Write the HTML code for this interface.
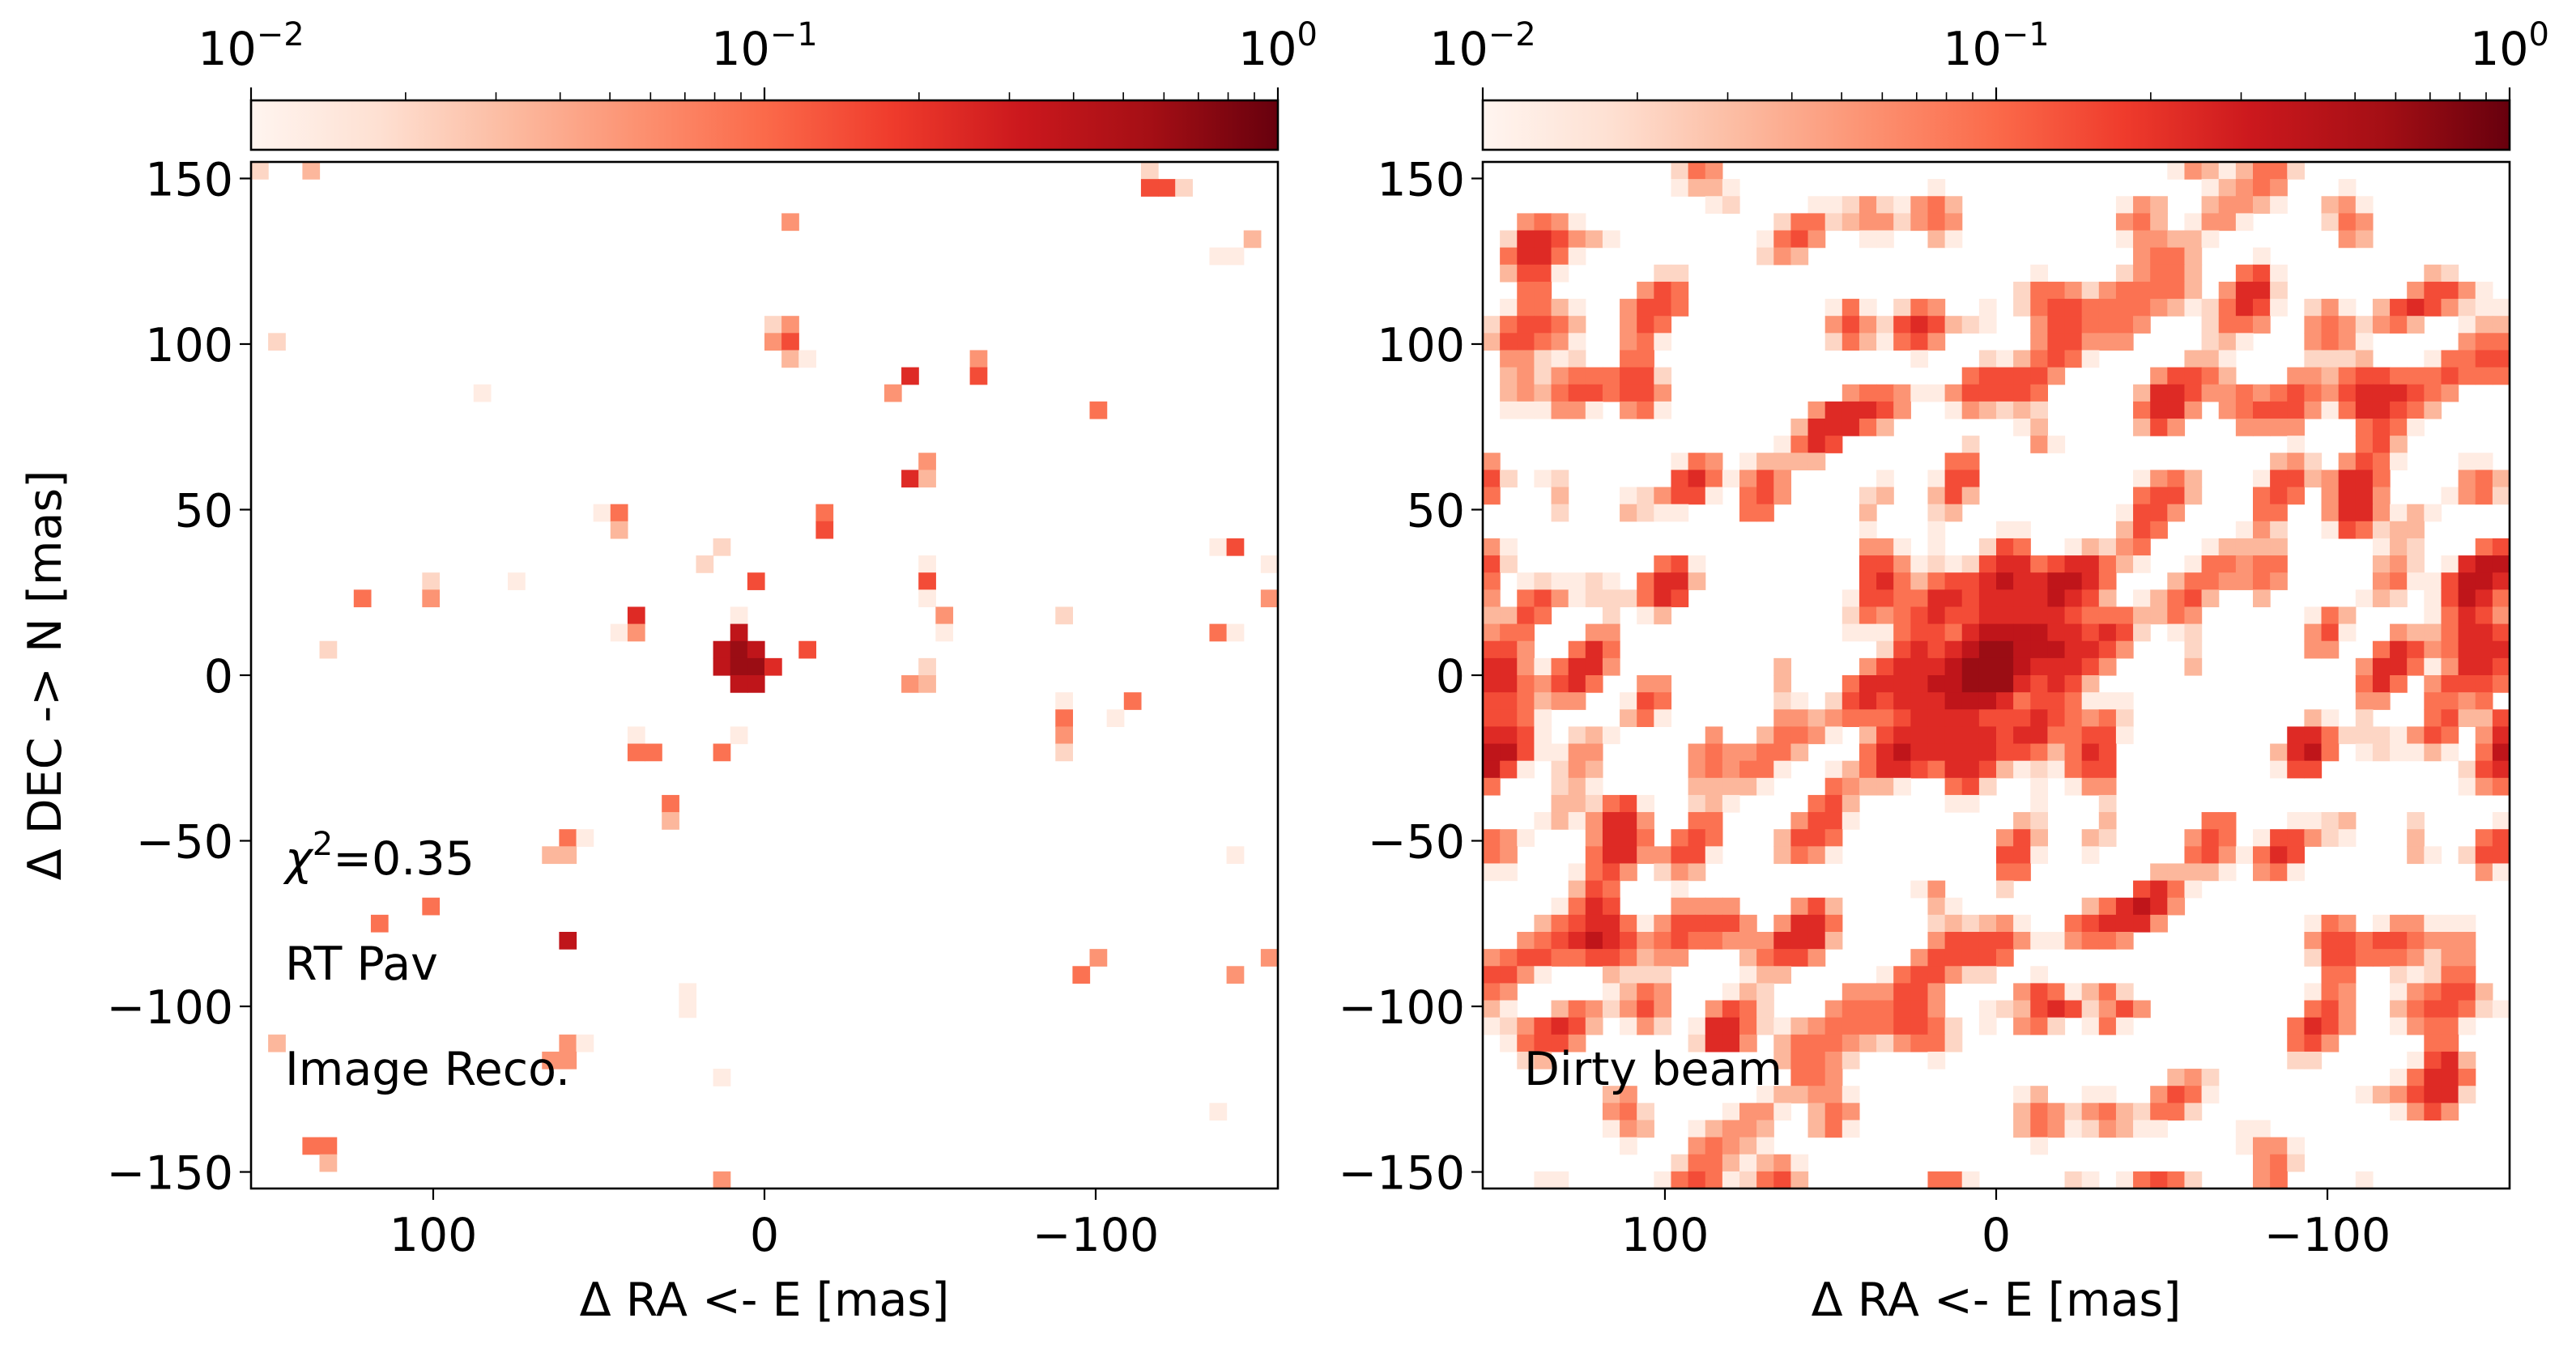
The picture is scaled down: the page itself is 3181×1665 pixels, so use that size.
<!DOCTYPE html>
<html><head><meta charset="utf-8"><style>
html,body{margin:0;padding:0;background:#fff;}
svg{display:block;font-family:"DejaVu Sans","Liberation Sans",sans-serif;}
</style></head><body>
<svg id="fig" width="3181" height="1665" viewBox="0 0 3181 1665" xmlns="http://www.w3.org/2000/svg">
<defs>
<linearGradient id="reds" x1="0" x2="1" y1="0" y2="0">
<stop offset="0" stop-color="#fff5f0"/><stop offset="0.125" stop-color="#fee0d2"/><stop offset="0.25" stop-color="#fcbba1"/><stop offset="0.375" stop-color="#fc9272"/><stop offset="0.5" stop-color="#fb6a4a"/><stop offset="0.625" stop-color="#ef3b2c"/><stop offset="0.75" stop-color="#cb181d"/><stop offset="0.875" stop-color="#a50f15"/><stop offset="1" stop-color="#67000d"/>
</linearGradient>
</defs>
<g id="left"></g>
<g id="right"></g>
</svg>
<script>
const extentMas = 155;
const gridSize = 60;
const yTicks = [150, 100, 50, 0, -50, -100, -150];
const xTicks = [100, 0, -100];
const cbarDecades = [-2, -1, 0];
const recoCells = [
[0,0,2],[0,3,3],[0,52,2],[1,52,6],[1,53,6],[1,54,2],[3,31,4],[4,58,3],[5,56,1],[5,57,1],
[9,30,2],[9,31,4],[10,1,2],[10,30,4],[10,31,6],[11,31,3],[11,32,1],[11,42,4],[12,38,7],[12,42,6],
[13,13,1],[13,37,4],[14,49,5],[17,39,4],[18,38,7],[18,39,3],[20,20,1],[20,21,5],[20,33,5],[21,21,3],
[21,33,6],[22,27,2],[22,56,1],[22,57,6],[23,26,2],[23,39,1],[23,59,1],[24,10,2],[24,15,1],[24,29,6],
[24,39,6],[25,6,5],[25,10,4],[25,39,1],[25,59,4],[26,22,7],[26,28,1],[26,40,4],[26,47,2],[27,21,1],
[27,22,4],[27,28,8],[27,40,1],[27,56,5],[27,57,1],[28,4,2],[28,27,8],[28,28,9],[28,29,8],[28,32,6],
[29,27,8],[29,28,9],[29,29,9],[29,30,7],[29,39,2],[30,28,8],[30,29,8],[30,38,4],[30,39,3],
[31,47,1],[31,51,5],[32,47,5],[32,50,1],[33,22,1],[33,28,1],[33,47,4],[34,22,5],[34,23,5],[34,27,5],[34,47,2],
[37,24,5],[38,24,3],[39,18,5],[39,19,1],[40,17,3],[40,18,3],[40,57,1],[43,10,5],[44,7,5],[45,18,8],
[46,49,4],[46,59,4],[47,48,5],[47,57,4],[48,25,1],[49,25,1],[51,1,3],[51,18,4],[51,19,1],[52,17,4],[52,18,4],
[53,27,1],[55,56,1],[57,3,5],[57,4,5],[58,4,3],[59,27,4]
];
const beamRows = [
"0000000000 0254000000 0000000000 0000000000 1431355200 0000000000",
"0000000000 0133100000 0000001000 0000000000 0013454000 1000000000",
"0000000000 0001200001 1242145300 0000000143 0034431003 4100000000",
"0045410000 0000000255 2344245400 0000000453 0144100002 5400000000",
"0277643100 0000001564 0011003100 0000000144 3310000000 4300000000",
"0577510000 0000002430 0000000000 0000000045 5300010000 0000000000",
"0366100000 2200000000 0000000000 0010000245 5300561000 0000032000",
"0055000004 6500000000 0000000000 0255424555 5304772000 0000466410",
"0155310046 6500000000 1510254001 0256655554 3125761024 1036764211",
"2566530046 5000000000 4642676321 0046655540 0025540045 4245300133",
"3665410045 1000000000 2531564000 0046644400 0023100045 4100000455",
"0442120055 0000000000 0000010002 1356510000 0331000022 2300015566",
"0342455566 2000000000 0000000056 6664000004 6653000443 5665556555",
"0343566566 4000000000 0455411466 6650000037 7644545654 6777654000",
"0111441045 1000000004 7776400143 2320000057 7404566641 5776530000",
"0000000000 0000000037 7753000000 0130000036 4000444400 0565100000",
"0000000000 0000000157 6000000020 0041000000 0000000100 0563000000",
"4000000000 0154013333 0000000550 0000000000 0000003420 4651000110",
"6201200000 0675146400 0001001660 0000000014 5300016634 7750000453",
"5000300012 4661056400 0023003630 0000000056 6300056504 7740001452",
"0000200032 1100055000 0030002300 0000000166 4000055004 7741310000",
"0000000000 0000000000 0010001000 1100000365 0000142001 6523300000",
"4100000000 0000000000 0044101002 6500132450 0013333000 0013200056",
"6200000000 5610000000 0066412126 7756775310 0155455000 0034201788",
"5012112105 7730000000 0067535667 8778875000 3554454000 0045116887",
"4056412225 7600000000 0166557767 7778763013 5630030000 0132016875",
"3365000201 3000000000 0254567667 7777655533 5400000015 3000015764",
"4550004400 0000000000 0111566578 8887767620 1200000046 1004335776",
"6640057500 0000000000 0002676789 9888776400 0200000044 0057645777",
"7741577400 0000000300 0046777899 9877764000 0300000000 0477514776",
"7754675004 4000000300 0577778899 9767630000 0000000000 0575046665",
"6653440016 5000000210 2676777888 7566511100 0000000000 0440055450",
"6651000035 1000000443 4555677776 6676545200 0000000031 0200056336",
"7761023100 0004003554 1036777777 6775566100 0000000775 2221465047",
"8861144000 0045445530 0057877777 6653576000 0000003785 0121131058",
"8610243000 0045455100 1357765776 3121566000 0000001660 0000000267",
"5000231000 0033331000 5433100562 0010144000 0000000000 0000000145",
"0000332561 0023100005 6300000110 0010002000 0000000000 0000000000",
"0001314774 0055000046 6100000000 0320003000 0055000112 3000200001",
"5410004775 0565000366 5000000000 4630032000 0465016642 1000300056",
"5400005774 4661000354 1000000000 6610010000 0564157600 0000310266",
"1100015640 2430000000 0000000000 5500000003 3331045100 0000000041",
"0000036500 0100000000 0000014000 2000000067 5100000000 0000000000",
"0000157600 0444400046 3000003100 0000035787 4000000000 0000000000",
"0003567751 4666640477 5000002323 4100567774 0000000015 4014411100",
"0045678764 5655444777 3000004666 6411455400 0000000046 6566544400",
"4566556653 4400035664 0000046666 5000000000 0000000026 6555424400",
"6641000322 2000013300 0001566422 0010000000 0000000005 5002125500",
"5400000135 4000132000 0444664000 0465135200 0000000015 4001456630",
"3100354246 4004652000 4555664001 2367624640 0000000056 4003566521",
"1246763014 2017752134 5555665201 0452015100 0000000576 4001455100",
"0156640000 0027740355 5432455200 0000000000 0000000564 0000055000",
"0023000000 0000000355 4200001000 0000000000 0000000220 0000167300",
"0000000000 0000000055 4000000000 0000000000 3420000000 0001577500",
"0000000340 0000001334 4100000000 0130011004 6510000000 0134677200",
"0000000452 0000144103 5400000000 0354245325 5200000000 0001464000",
"0000000143 0013443003 5100000000 0354124311 0000110000 0000000000",
"0000000010 0045431000 0000000000 0010000000 0000144100 0000000000",
"0000000000 0255313410 0000000000 0000000000 0000045200 0000000000",
"0001100000 1565125630 0000005510 0000210156 5200045000 0100000000"
];
</script>
<script>
const NS = "http://www.w3.org/2000/svg";
const size = 1268;
const S = size / (2 * extentMas);
const panelX = [310, 1831];
const top0 = 200;
const cell = 2 * extentMas / gridSize;
function xOf(p, ra) { return panelX[p] + (extentMas - ra) * S; }
function yOf(dec) { return top0 + (extentMas - dec) * S; }
function cbX(p, logv) { return panelX[p] + (logv + 2) / 2 * size; }
const stops = [[0,[255,245,240]],[0.125,[254,224,210]],[0.25,[252,187,161]],[0.375,[252,146,114]],[0.5,[251,106,74]],[0.625,[239,59,44]],[0.75,[203,24,29]],[0.875,[165,15,21]],[1,[103,0,13]]];
function reds(t) {
  t = Math.max(0, Math.min(1, t));
  for (let i = 1; i < stops.length; i++) {
    if (t <= stops[i][0]) {
      const a = stops[i-1], b = stops[i], f = (t - a[0]) / (b[0] - a[0]);
      const c = a[1].map((v, j) => Math.round(v + (b[1][j] - v) * f));
      return "rgb(" + c.join(",") + ")";
    }
  }
  return "rgb(103,0,13)";
}
function levelValue(k) { return Math.pow(10, -2 + 2 * (k - 0.5) / 9.5); }
function colorOf(v) { return reds((Math.log10(v) + 2) / 2); }
function mk(tag, attrs, parent) {
  const e = document.createElementNS(NS, tag);
  for (const k in attrs) e.setAttribute(k, attrs[k]);
  parent.appendChild(e);
  return e;
}
function drawCell(p, r, c, k, g) {
  const ra = extentMas - (c + 0.5) * cell, dec = extentMas - (r + 0.5) * cell;
  const x = xOf(p, ra + cell / 2), y = yOf(dec + cell / 2);
  const w = xOf(p, ra - cell / 2) - x, h = yOf(dec - cell / 2) - y;
  const el = mk("rect", {x: x.toFixed(2), y: y.toFixed(2), width: (w + 0.6).toFixed(2), height: (h + 0.6).toFixed(2), fill: colorOf(levelValue(k))}, g);
  
  
}
function drawPanel(p, g) {
  const cells = mk("g", {}, g);
  
  
  if (p === 0) {
    recoCells.forEach(d => drawCell(0, d[0], d[1], d[2], cells));
  } else {
    beamRows.forEach((row, r) => {
      const s = row.replace(/\s/g, "");
      for (let c = 0; c < gridSize && c < s.length; c++) {
        const k = +s[c];
        if (k > 0) drawCell(1, r, c, k, cells);
      }
    });
  }
  const frame = mk("rect", {x: panelX[p], y: top0, width: size, height: size, fill: "none", stroke: "#000", "stroke-width": 2.6}, g);
  
  
  yTicks.forEach(v => {
    const y = yOf(v);
    const t = mk("line", {x1: panelX[p] - 14, x2: panelX[p], y1: y, y2: y, stroke: "#000", "stroke-width": 2.2}, g);
    
    
    const lb = mk("text", {x: panelX[p] - 22, y: y + 21, "text-anchor": "end", "font-size": 57}, g);
    lb.textContent = v < 0 ? "\u2212" + Math.abs(v) : String(v);
    
    
  });
  xTicks.forEach(v => {
    const x = xOf(p, v);
    const t = mk("line", {x1: x, x2: x, y1: top0 + size, y2: top0 + size + 14, stroke: "#000", "stroke-width": 2.2}, g);
    
    
    const lb = mk("text", {x: x, y: 1545, "text-anchor": "middle", "font-size": 57}, g);
    lb.textContent = v < 0 ? "\u2212" + Math.abs(v) : String(v);
    
    
  });
  const xt = mk("text", {x: panelX[p] + size / 2, y: 1625, "text-anchor": "middle", "font-size": 57}, g);
  xt.textContent = "\u0394 RA <- E [mas]";
  
  
  const cb = mk("g", {}, g);
  
  
  const bar = mk("rect", {x: panelX[p], y: 124, width: size, height: 61, fill: "url(#reds)", stroke: "#000", "stroke-width": 2.6}, cb);
  
  
  for (let d = -2; d < 0; d++) {
    for (let m = 2; m <= 9; m++) {
      const x = cbX(p, d + Math.log10(m));
      const t = mk("line", {x1: x, x2: x, y1: 114, y2: 124, stroke: "#000", "stroke-width": 1.6}, cb);
      
      
    }
  }
  cbarDecades.forEach(d => {
    const x = cbX(p, d);
    const t = mk("line", {x1: x, x2: x, y1: 108, y2: 124, stroke: "#000", "stroke-width": 2.2}, cb);
    
    
    const lb = mk("text", {x: x, y: 80, "text-anchor": "middle", "font-size": 57}, cb);
    
    
    const base = mk("tspan", {}, lb);
    base.textContent = "10";
    const sup = mk("tspan", {dy: -24, "font-size": 40}, lb);
    sup.textContent = d < 0 ? "\u2212" + Math.abs(d) : String(d);
  });
}
const gl = document.getElementById("left");
const gr = document.getElementById("right");
drawPanel(0, gl);
drawPanel(1, gr);
const yt = mk("text", {x: 0, y: 0, "text-anchor": "middle", "font-size": 57, transform: "translate(75,834) rotate(-90)"}, gl);
yt.textContent = "\u0394 DEC -> N [mas]";


const chi = mk("text", {x: 352, y: 1080, "font-size": 57}, gl);


const c1 = mk("tspan", {"font-style": "italic"}, chi);
c1.textContent = "\u03c7";
const c2 = mk("tspan", {dy: -24, "font-size": 40}, chi);
c2.textContent = "2";
const c3 = mk("tspan", {dy: 24}, chi);
c3.textContent = "=0.35";
const star = mk("text", {x: 352, y: 1210, "font-size": 57}, gl);
star.textContent = "RT Pav";


const reco = mk("text", {x: 352, y: 1340, "font-size": 57}, gl);
reco.textContent = "Image Reco.";


const db = mk("text", {x: 1882, y: 1340, "font-size": 57}, gr);
db.textContent = "Dirty beam";


</script>
</body></html>
